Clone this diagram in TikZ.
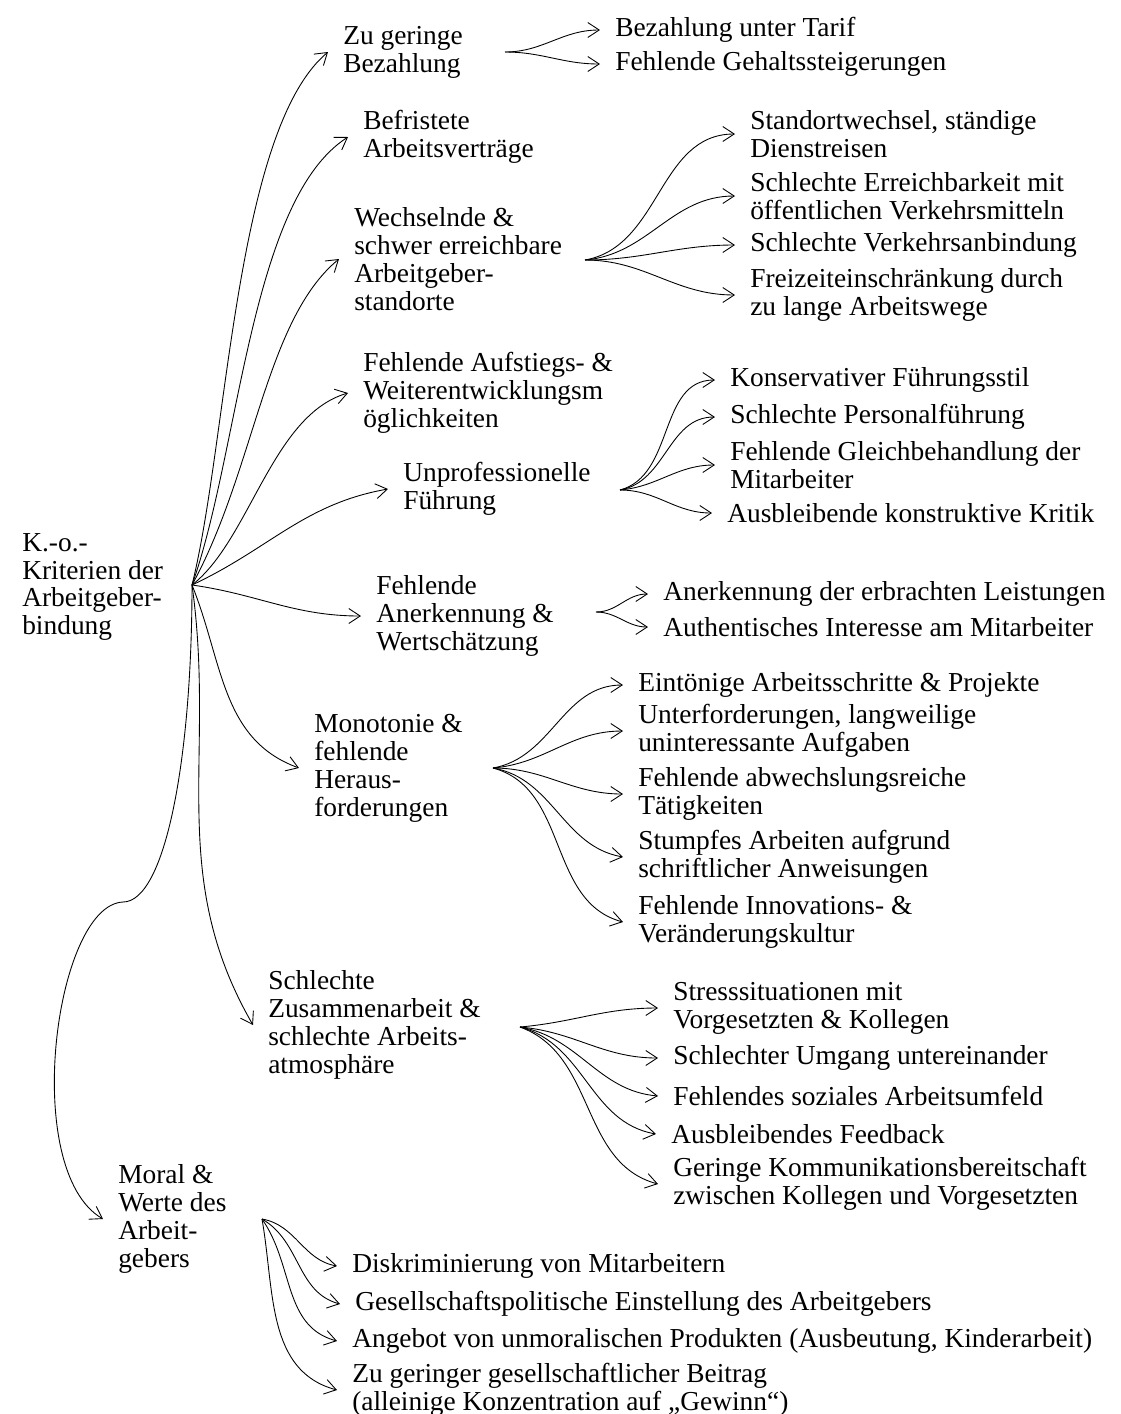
\documentclass[tikz,border=0pt]{standalone}
\usepackage{fontspec}
\setmainfont{Liberation Serif}
\usepackage{tikz}
\usetikzlibrary{arrows.meta}

\begin{document}
\begin{tikzpicture}[x=0.02cm, y=-0.02cm,
    item/.style={anchor=west, align=left, inner xsep=8.5pt, inner ysep=0pt,
      font=\fontsize{15.6}{15.9}\selectfont},
    link/.style={-{Straight Barb[length=6.5pt, width=8.5pt]}, line width=0.5pt}]
  \useasboundingbox (0,0) rectangle (1120,1414);

  % root and first level
  \node[item] (ko) at (7,587) {K.-o.-\\Kriterien der\\Arbeitgeber-\\bindung};
  \node[item] (bez) at (328,52) {Zu geringe\\Bezahlung};
  \node[item] (bef) at (348,137) {Befristete\\Arbeitsverträge};
  \node[item] (wech) at (339,259) {Wechselnde \&\\schwer erreichbare\\Arbeitgeber-\\standorte};
  \node[item] (auf) at (348,393) {Fehlende Aufstiegs- \&\\Weiterentwicklungsm\\öglichkeiten};
  \node[item] (unp) at (388,489) {Unprofessionelle\\Führung};
  \node[item] (anerk) at (361,616) {Fehlende\\Anerkennung \&\\Wertschätzung};
  \node[item] (mono) at (299,768) {Monotonie \&\\fehlende\\Heraus-\\forderungen};
  \node[item] (zus) at (253,1025) {Schlechte\\Zusammenarbeit \&\\schlechte Arbeits-\\atmosphäre};
  \node[item] (moral) at (103,1219) {Moral \&\\Werte des\\Arbeit-\\gebers};

  % second level
  \node[item] (bez1) at (600,30) {Bezahlung unter Tarif};
  \node[item] (bez2) at (600,64) {Fehlende Gehaltssteigerungen};

  \node[item] (wech1) at (735,134) {Standortwechsel, ständige\\Dienstreisen};
  \node[item] (wech2) at (735,196) {Schlechte Erreichbarkeit mit\\öffentlichen Verkehrsmitteln};
  \node[item] (wech3) at (735,245) {Schlechte Verkehrsanbindung};
  \node[item] (wech4) at (735,295) {Freizeiteinschränkung durch\\zu lange Arbeitswege};

  \node[item] (unp1) at (715,380) {Konservativer Führungsstil};
  \node[item] (unp2) at (715,417) {Schlechte Personalführung};
  \node[item] (unp3) at (715,465) {Fehlende Gleichbehandlung der\\Mitarbeiter};
  \node[item] (unp4) at (712,513) {Ausbleibende konstruktive Kritik};

  \node[item] (an1) at (648,594) {Anerkennung der erbrachten Leistungen};
  \node[item] (an2) at (648,627) {Authentisches Interesse am Mitarbeiter};

  \node[item] (mono1) at (623,685) {Eintönige Arbeitsschritte \& Projekte};
  \node[item] (mono2) at (623,731) {Unterforderungen, langweilige\\uninteressante Aufgaben};
  \node[item] (mono3) at (623,794) {Fehlende abwechslungsreiche\\Tätigkeiten};
  \node[item] (mono4) at (623,857) {Stumpfes Arbeiten aufgrund\\schriftlicher Anweisungen};
  \node[item] (mono5) at (623,922) {Fehlende Innovations- \&\\Veränderungskultur};

  \node[item] (zus1) at (658,1008) {Stresssituationen mit\\Vorgesetzten \& Kollegen};
  \node[item] (zus2) at (658,1058) {Schlechter Umgang untereinander};
  \node[item] (zus3) at (658,1096) {Fehlendes soziales Arbeitsumfeld};
  \node[item] (zus4) at (656,1134) {Ausbleibendes Feedback};
  \node[item] (zus5) at (658,1184) {Geringe Kommunikationsbereitschaft\\zwischen Kollegen und Vorgesetzten};

  \node[item] (mor1) at (337,1266) {Diskriminierung von Mitarbeitern};
  \node[item] (mor2) at (340,1304) {Gesellschaftspolitische Einstellung des Arbeitgebers};
  \node[item] (mor3) at (337,1341) {Angebot von unmoralischen Produkten (Ausbeutung, Kinderarbeit)};
  \node[item] (mor4) at (337,1390) {Zu geringer gesellschaftlicher Beitrag\\(alleinige Konzentration auf „Gewinn“)};

  % fork points
  \coordinate (kofork) at (192,585);
  \coordinate (bezfork) at (505,52);
  \coordinate (wechfork) at (585,260);
  \coordinate (unpfork) at (620,490);
  \coordinate (anfork) at (596,612);
  \coordinate (monofork) at (493,768);
  \coordinate (zusfork) at (520,1027);
  \coordinate (morfork) at (262,1219);

  % connectors from the root
  \draw[link] (kofork) .. controls (228,440) and (235,130) .. (bez.west);
  \draw[link] (kofork) .. controls (240,450) and (250,200) .. (bef.west);
  \draw[link] (kofork) .. controls (255,470) and (265,320) .. (wech.west);
  \draw[link] (kofork) .. controls (250,540) and (272,415) .. (auf.west);
  \draw[link] (kofork) to[out=25, in=190] (unp.west);
  \draw[link] (kofork) to[out=-8, in=180] (anerk.west);
  \draw[link] (kofork) to[out=-68, in=160] (mono.west);
  \draw[link] (kofork) to[out=-82, in=120] (zus.west);
  \draw[link] (kofork) .. controls (192,760) and (165,902) .. (123,902)
    .. controls (55,905) and (20,1170) .. (moral.west);

  % second level connectors
  \draw[link] (bezfork) to[out=0, in=180] (bez1.west);
  \draw[link] (bezfork) to[out=0, in=180] (bez2.west);

  \draw[link] (wechfork) to[out=10, in=180] (wech1.west);
  \draw[link] (wechfork) to[out=5, in=180] (wech2.west);
  \draw[link] (wechfork) to[out=0, in=180] (wech3.west);
  \draw[link] (wechfork) to[out=0, in=180] (wech4.west);

  \draw[link] (unpfork) to[out=15, in=180] (unp1.west);
  \draw[link] (unpfork) to[out=10, in=180] (unp2.west);
  \draw[link] (unpfork) to[out=5, in=180] (unp3.west);
  \draw[link] (unpfork) to[out=0, in=180] (unp4.west);

  \draw[link] (anfork) to[out=0, in=180] (an1.west);
  \draw[link] (anfork) to[out=0, in=180] (an2.west);

  \draw[link] (monofork) to[out=10, in=180] (mono1.west);
  \draw[link] (monofork) to[out=5, in=180] (mono2.west);
  \draw[link] (monofork) to[out=0, in=180] (mono3.west);
  \draw[link] (monofork) to[out=-10, in=170] (mono4.west);
  \draw[link] (monofork) to[out=-15, in=165] (mono5.west);

  \draw[link] (zusfork) to[out=5, in=180] (zus1.west);
  \draw[link] (zusfork) to[out=-5, in=180] (zus2.west);
  \draw[link] (zusfork) to[out=-10, in=175] (zus3.west);
  \draw[link] (zusfork) to[out=-15, in=170] (zus4.west);
  \draw[link] (zusfork) to[out=-20, in=165] (zus5.west);

  \draw[link] (morfork) to[out=-10, in=170] (mor1.west);
  \draw[link] (morfork) to[out=-30, in=165] (mor2.west);
  \draw[link] (morfork) to[out=-55, in=165] (mor3.west);
  \draw[link] (morfork) to[out=-80, in=165] (mor4.west);
\end{tikzpicture}
\end{document}
